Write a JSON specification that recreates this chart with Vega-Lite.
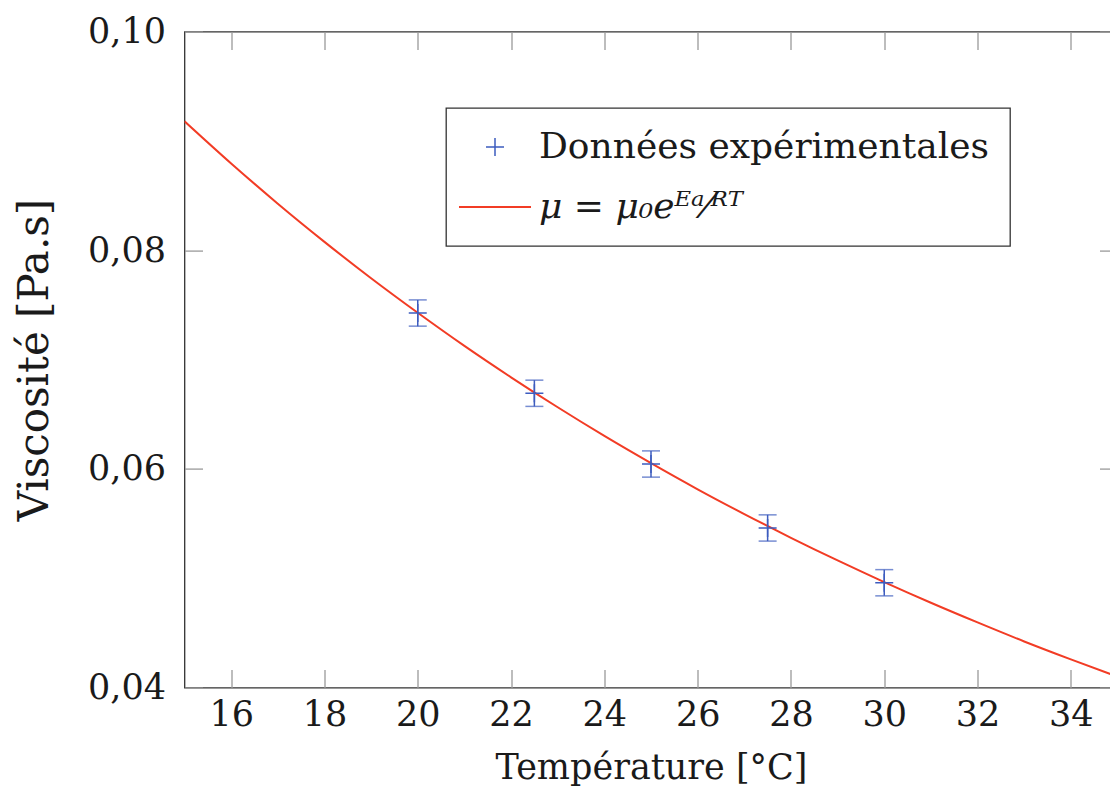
{
  "$schema": "https://vega.github.io/schema/vega-lite/v6.json",
  "width": 933,
  "height": 656,
  "autosize": {"type": "none"},
  "padding": {"left": 184.5, "top": 31.6, "right": 0, "bottom": 122.4},
  "background": "white",
  "config": {
    "font": "DejaVu Serif",
    "view": {"stroke": "#333333", "strokeWidth": 1.3},
    "axis": {
      "domain": false,
      "grid": false,
      "tickColor": "#9a9a9a",
      "tickWidth": 1.3,
      "labelFont": "DejaVu Serif",
      "titleFont": "DejaVu Serif",
      "labelColor": "#1a1a1a",
      "titleColor": "#1a1a1a",
      "titleFontWeight": "normal"
    }
  },
  "datasets": {
    "curve": [
      {"T": 15, "mu": 0.09180, "series": "μ = μ₀eᴱᵃ⁄ᴿᵀ"},
      {"T": 16, "mu": 0.08794, "series": "μ = μ₀eᴱᵃ⁄ᴿᵀ"},
      {"T": 17, "mu": 0.08426, "series": "μ = μ₀eᴱᵃ⁄ᴿᵀ"},
      {"T": 18, "mu": 0.08077, "series": "μ = μ₀eᴱᵃ⁄ᴿᵀ"},
      {"T": 19, "mu": 0.07744, "series": "μ = μ₀eᴱᵃ⁄ᴿᵀ"},
      {"T": 20, "mu": 0.07428, "series": "μ = μ₀eᴱᵃ⁄ᴿᵀ"},
      {"T": 21, "mu": 0.07125, "series": "μ = μ₀eᴱᵃ⁄ᴿᵀ"},
      {"T": 22, "mu": 0.06838, "series": "μ = μ₀eᴱᵃ⁄ᴿᵀ"},
      {"T": 23, "mu": 0.06564, "series": "μ = μ₀eᴱᵃ⁄ᴿᵀ"},
      {"T": 24, "mu": 0.06302, "series": "μ = μ₀eᴱᵃ⁄ᴿᵀ"},
      {"T": 25, "mu": 0.06053, "series": "μ = μ₀eᴱᵃ⁄ᴿᵀ"},
      {"T": 26, "mu": 0.05814, "series": "μ = μ₀eᴱᵃ⁄ᴿᵀ"},
      {"T": 27, "mu": 0.05587, "series": "μ = μ₀eᴱᵃ⁄ᴿᵀ"},
      {"T": 28, "mu": 0.05370, "series": "μ = μ₀eᴱᵃ⁄ᴿᵀ"},
      {"T": 29, "mu": 0.05163, "series": "μ = μ₀eᴱᵃ⁄ᴿᵀ"},
      {"T": 30, "mu": 0.04965, "series": "μ = μ₀eᴱᵃ⁄ᴿᵀ"},
      {"T": 31, "mu": 0.04776, "series": "μ = μ₀eᴱᵃ⁄ᴿᵀ"},
      {"T": 32, "mu": 0.04596, "series": "μ = μ₀eᴱᵃ⁄ᴿᵀ"},
      {"T": 33, "mu": 0.04422, "series": "μ = μ₀eᴱᵃ⁄ᴿᵀ"},
      {"T": 34, "mu": 0.04258, "series": "μ = μ₀eᴱᵃ⁄ᴿᵀ"},
      {"T": 35, "mu": 0.04100, "series": "μ = μ₀eᴱᵃ⁄ᴿᵀ"}
    ],
    "pts": [
      {"T": 20, "mu": 0.07426, "err": 0.0012, "series": "Données expérimentales"},
      {"T": 22.5, "mu": 0.06692, "err": 0.0012, "series": "Données expérimentales"},
      {"T": 25, "mu": 0.06045, "err": 0.0012, "series": "Données expérimentales"},
      {"T": 27.5, "mu": 0.05460, "err": 0.0012, "series": "Données expérimentales"},
      {"T": 30, "mu": 0.04959, "err": 0.0012, "series": "Données expérimentales"}
    ]
  },
  "layer": [
    {
      "data": {"name": "curve"},
      "mark": {"type": "line", "strokeWidth": 2, "interpolate": "monotone", "clip": true},
      "encoding": {
        "x": {
          "field": "T", "type": "quantitative",
          "scale": {"domain": [15, 35], "nice": false, "zero": false},
          "axis": {
            "orient": "bottom",
            "values": [16, 18, 20, 22, 24, 26, 28, 30, 32, 34],
            "tickSize": -18,
            "labelPadding": 28,
            "labelFontSize": 35,
            "title": "Température [°C]",
            "titleFontSize": 35,
            "titlePadding": 18
          }
        },
        "y": {
          "field": "mu", "type": "quantitative",
          "scale": {"domain": [0.04, 0.10], "nice": false, "zero": false},
          "axis": {
            "orient": "left",
            "values": [0.04, 0.06, 0.08, 0.10],
            "labelExpr": "replace(format(datum.value, '.2f'), '.', ',')",
            "tickSize": -18,
            "labelPadding": 37,
            "labelFontSize": 35,
            "title": "Viscosité [Pa.s]",
            "titleFontSize": 42,
            "titlePadding": 31
          }
        },
        "color": {
          "field": "series", "type": "nominal",
          "scale": {"domain": ["Données expérimentales", "μ = μ₀eᴱᵃ⁄ᴿᵀ"], "range": ["#3d5cbf", "#f23c25"]},
          "legend": {
            "orient": "none",
            "legendX": 261.5,
            "legendY": 76.4,
            "title": null,
            "strokeColor": "#333333",
            "fillColor": "white",
            "padding": 21,
            "labelFont": "DejaVu Serif",
            "labelFontSize": 36,
            "labelColor": "#1a1a1a",
            "labelLimit": 1000,
            "labelOffset": 26,
            "symbolOffset": 10,
            "rowPadding": 24,
            "symbolSize": 5184,
            "symbolType": "stroke",
            "symbolStrokeWidth": 2,
            "encode": {
              "legend": {"update": {"strokeWidth": {"value": 1.3}}},
              "symbols": {"update": {
                "shape": {"signal": "datum.value === 'Données expérimentales' ? 'M-1,0L1,0M0,-1L0,1' : 'stroke'"},
                "size": {"signal": "datum.value === 'Données expérimentales' ? 324 : 5184"},
                "strokeWidth": {"signal": "datum.value === 'Données expérimentales' ? 1.5 : 2"}
              }},
              "labels": {"update": {
                "fontStyle": {"signal": "datum.value === 'Données expérimentales' ? 'normal' : 'italic'"}
              }}
            }
          }
        }
      }
    },
    {
      "data": {"name": "pts"},
      "mark": {"type": "errorbar", "ticks": {"size": 18, "color": "#3d5cbf", "strokeWidth": 1.5}, "color": "#3d5cbf", "thickness": 1.5},
      "encoding": {
        "x": {
          "field": "T", "type": "quantitative",
          "axis": {"orient": "top", "values": [16, 18, 20, 22, 24, 26, 28, 30, 32, 34], "tickSize": -18, "labels": false, "title": null}
        },
        "y": {
          "field": "mu", "type": "quantitative",
          "axis": {"orient": "right", "values": [0.04, 0.06, 0.08, 0.10], "tickSize": -18, "labels": false, "title": null}
        },
        "yError": {"field": "err"}
      }
    },
    {
      "data": {"name": "pts"},
      "mark": {"type": "point", "filled": false, "strokeWidth": 1.5, "size": 324, "opacity": 1, "shape": "M-1,0L1,0M0,-1L0,1", "color": "#3d5cbf"},
      "encoding": {
        "x": {"field": "T", "type": "quantitative", "axis": null},
        "y": {"field": "mu", "type": "quantitative", "axis": null}
      }
    }
  ]
}
